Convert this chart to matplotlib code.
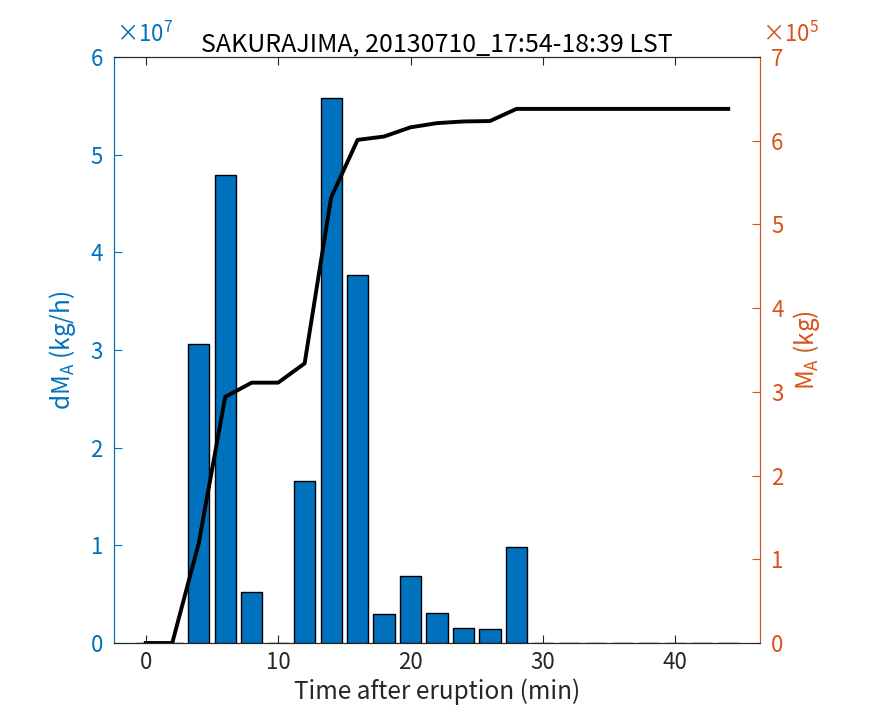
import numpy as np
import matplotlib.pyplot as plt

# time after eruption (min), 2-min bins
t = [0, 2, 4, 6, 8, 10, 12, 14, 16, 18, 20, 22, 24, 26, 28,
     30, 32, 34, 36, 38, 40, 42, 44]
# ash emission rate dM_A (x1e7 kg/h)
dM = [0, 0, 3.06, 4.79, 0.52, 0, 1.66, 5.58, 3.77, 0.30, 0.69, 0.31, 0.15, 0.14, 0.98,
      0, 0, 0, 0, 0, 0, 0, 0]
# cumulative ash mass M_A (x1e5 kg)
M = [0, 0, 1.19, 2.94, 3.11, 3.11, 3.34, 5.32, 6.01, 6.05, 6.16, 6.21, 6.23, 6.235, 6.38,
     6.38, 6.38, 6.38, 6.38, 6.38, 6.38, 6.38, 6.38]

blue = '#0072BD'
orange = '#D95319'

plt.rcParams['font.family'] = ['Noto Sans CJK JP', 'DejaVu Sans']
plt.rcParams['mathtext.default'] = 'regular'
fs_tick = 16
fs_lab = 17.5
fs_title = 18

fig = plt.figure(figsize=(8.75, 7.23), dpi=100)
ax1 = fig.add_axes([114/875, 80/723, 646/875, 586/723])
ax2 = ax1.twinx()

ax1.bar(t, np.array(dM), width=1.6, color=blue, edgecolor='black', linewidth=1.0, zorder=2)
ax2.plot(t, M, color='black', linewidth=2.8)

ax1.set_xlim(-2.4, 46.4)
ax1.set_ylim(0, 6)
ax2.set_ylim(0, 7)
ax1.set_xticks([0, 10, 20, 30, 40])
ax1.set_yticks(range(0, 7))
ax2.set_yticks(range(0, 8))

for ax in (ax1, ax2):
    for s in ax.spines.values():
        s.set_linewidth(0.8)
    ax.spines['bottom'].set_color('#262626')
    ax.spines['top'].set_color('#262626')
    ax.spines['left'].set_color(blue)
    ax.spines['right'].set_color(orange)

ax1.tick_params(axis='x', direction='in', top=True, length=6, width=0.8,
                color='#262626', labelsize=fs_tick, labelcolor='#262626', pad=6)
ax1.tick_params(axis='y', direction='in', length=6, width=0.8,
                color=blue, labelcolor=blue, labelsize=fs_tick, pad=8)
ax2.tick_params(axis='y', direction='in', length=6, width=0.8,
                color=orange, labelcolor=orange, labelsize=fs_tick, pad=8)

ax1.set_xlabel('Time after eruption (min)', fontsize=fs_lab, color='#262626', labelpad=3)
ax1.set_ylabel('dM$_A$ (kg/h)', fontsize=fs_lab, color=blue, labelpad=9)
ax2.set_ylabel('M$_A$ (kg)', fontsize=fs_lab, color=orange, labelpad=5)
ax1.set_title('SAKURAJIMA, 20130710_17:54-18:39 LST', fontsize=fs_title, pad=3)

ax1.text(0.003, 1.017, r'$\times10^7$', transform=ax1.transAxes, color=blue,
         fontsize=fs_tick, ha='left', va='bottom')
ax2.text(1.003, 1.017, r'$\times10^5$', transform=ax2.transAxes, color=orange,
         fontsize=fs_tick, ha='left', va='bottom')

fig.savefig('out.png', dpi=100)
